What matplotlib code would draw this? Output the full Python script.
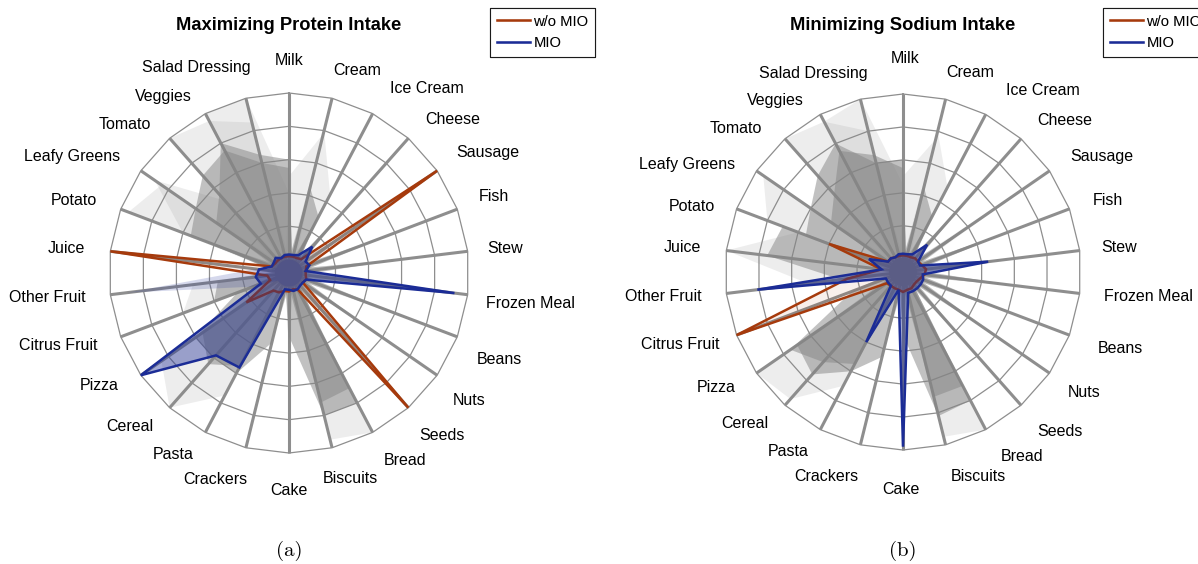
import numpy as np
import matplotlib
matplotlib.use("Agg")
import matplotlib.pyplot as plt
from matplotlib.patches import Polygon
from matplotlib.lines import Line2D

# ---------------- data ----------------
categories = ["Milk", "Cream", "Ice Cream", "Cheese", "Sausage", "Fish", "Stew",
              "Frozen Meal", "Beans", "Nuts", "Seeds", "Bread", "Biscuits", "Cake",
              "Crackers", "Pasta", "Cereal", "Pizza", "Citrus Fruit", "Other Fruit",
              "Juice", "Potato", "Leafy Greens", "Tomato", "Veggies", "Salad Dressing"]

titles = ["Maximizing Protein Intake", "Minimizing Sodium Intake"]
captions = ["(a)", "(b)"]
legend_labels = ["w/o MIO", "MIO"]

# normalised values (0 = inner ring, 1 = outer ring)
wo_mio_a = [0.02, 0.02, 0.02, 0.03, 1.00, 0.03, 0.02, 0.02, 0.03, 0.02, 1.00, 0.03, 0.02,
            0.03, 0.03, 0.05, 0.06, 0.23, 0.04, 0.05, 1.00, 0.03, 0.02, 0.02, 0.02, 0.02]
mio_a = [0.03, 0.03, 0.04, 0.13, 0.04, 0.05, 0.02, 0.92, 0.03, 0.02, 0.02, 0.03, 0.03,
         0.02, 0.02, 0.56, 0.58, 1.00, 0.10, 0.12, 0.10, 0.03, 0.03, 0.04, 0.02, 0.03]
mio_faint_a = {"Citrus Fruit": 0.15, "Other Fruit": 0.90, "Juice": 0.12}

wo_mio_b = [0.02, 0.02, 0.02, 0.03, 0.03, 0.04, 0.06, 0.05, 0.03, 0.02, 0.02, 0.03, 0.03,
            0.04, 0.03, 0.03, 0.03, 0.04, 1.00, 0.26, 0.05, 0.40, 0.03, 0.03, 0.02, 0.02]
mio_b = [0.03, 0.03, 0.04, 0.14, 0.03, 0.03, 0.44, 0.04, 0.05, 0.05, 0.05, 0.05, 0.05,
         0.98, 0.03, 0.40, 0.03, 0.03, 0.03, 0.81, 0.05, 0.14, 0.03, 0.03, 0.02, 0.03]
mio_faint_b = {}

# grey clouds of other solutions: dense core and faint tips
grey_core_a = [
    {"Potato": 0.55, "Leafy Greens": 0.6, "Tomato": 0.7, "Veggies": 0.75, "Salad Dressing": 0.6, "Milk": 0.55},
    {"Leafy Greens": 0.45, "Tomato": 0.55, "Veggies": 0.8, "Salad Dressing": 0.65, "Milk": 0.6},
    {"Cream": 0.45, "Ice Cream": 0.3},
    {"Ice Cream": 0.3, "Sausage": 0.45, "Stew": 0.55, "Beans": 0.6, "Seeds": 0.4},
    {"Cheese": 0.4, "Fish": 0.5, "Frozen Meal": 0.75, "Nuts": 0.45},
    {"Bread": 0.8, "Biscuits": 0.8, "Cake": 0.3},
    {"Bread": 0.7, "Biscuits": 0.72},
    {"Cake": 0.4, "Pasta": 0.55, "Cereal": 0.65, "Pizza": 0.55},
    {"Crackers": 0.35, "Pasta": 0.6, "Cereal": 0.6, "Pizza": 0.6, "Citrus Fruit": 0.25},
    {"Citrus Fruit": 0.4, "Other Fruit": 0.35, "Potato": 0.5},
]
grey_tip_a = [
    {"Tomato": 1.0, "Veggies": 0.95, "Salad Dressing": 0.85},
    {"Veggies": 1.0, "Salad Dressing": 1.0, "Milk": 0.4},
    {"Potato": 0.95, "Leafy Greens": 0.85},
    {"Potato": 0.6, "Leafy Greens": 0.9, "Tomato": 0.5},
    {"Milk": 0.5, "Cream": 0.78},
    {"Cream": 0.8, "Ice Cream": 0.45},
    {"Stew": 0.7, "Beans": 0.8, "Seeds": 0.45},
    {"Fish": 0.65, "Frozen Meal": 0.88, "Nuts": 0.55},
    {"Bread": 1.0, "Biscuits": 0.95},
    {"Pasta": 0.75, "Cereal": 1.0, "Pizza": 0.85},
    {"Citrus Fruit": 0.6, "Other Fruit": 0.5},
]

grey_core_b = [
    {"Potato": 0.55, "Leafy Greens": 0.6, "Tomato": 0.7, "Veggies": 0.8, "Salad Dressing": 0.6, "Milk": 0.6},
    {"Leafy Greens": 0.45, "Tomato": 0.55, "Veggies": 0.75, "Salad Dressing": 0.65, "Milk": 0.55},
    {"Other Fruit": 0.3, "Juice": 0.75, "Potato": 0.7},
    {"Cream": 0.45, "Ice Cream": 0.3},
    {"Ice Cream": 0.3, "Sausage": 0.5, "Stew": 0.55, "Beans": 0.6, "Seeds": 0.45},
    {"Cheese": 0.45, "Fish": 0.55, "Frozen Meal": 0.6, "Nuts": 0.55},
    {"Bread": 0.8, "Biscuits": 0.82, "Cake": 0.3},
    {"Bread": 0.7, "Biscuits": 0.7},
    {"Crackers": 0.45, "Pasta": 0.6, "Cereal": 0.75, "Pizza": 0.7},
    {"Cake": 0.35, "Pasta": 0.55, "Cereal": 0.65, "Pizza": 0.75, "Citrus Fruit": 0.25},
]
grey_tip_b = [
    {"Tomato": 1.0, "Veggies": 0.95, "Salad Dressing": 0.8},
    {"Veggies": 0.95, "Salad Dressing": 1.0, "Milk": 0.45},
    {"Potato": 0.8, "Leafy Greens": 0.95},
    {"Other Fruit": 0.5, "Juice": 1.0, "Potato": 0.6},
    {"Milk": 0.5, "Cream": 0.75},
    {"Cream": 0.8, "Ice Cream": 0.5},
    {"Sausage": 0.86, "Stew": 0.6, "Beans": 0.7},
    {"Fish": 0.6, "Frozen Meal": 0.65, "Nuts": 0.72},
    {"Bread": 1.0, "Biscuits": 0.95},
    {"Pasta": 0.7, "Cereal": 0.95, "Pizza": 1.0},
]

# ---------------- style ----------------
ORANGE = "#A63A0C"
BLUE = "#1B2C96"
GRID = "#8E8E8E"
R0 = 0.075

# label nudges in pixels (right, down)
nudge_a = {"Cream": (-5, -3), "Ice Cream": (6, -3), "Sausage": (-2, -4), "Fish": (-2, -4),
           "Stew": (-5, 0), "Frozen Meal": (-7, 6), "Beans": (-4, 14), "Nuts": (-5, 11),
           "Seeds": (-6, 9), "Bread": (-1, 6), "Biscuits": (-15, 6), "Cake": (0, 5),
           "Crackers": (7, 7), "Tomato": (-2, 5), "Veggies": (-2, 5),
           "Salad Dressing": (11, -6), "Pizza": (-1, -4)}
nudge_b = {"Cream": (-5, -2), "Ice Cream": (9, -2), "Stew": (-3, 0), "Beans": (5, 5),
           "Nuts": (-2, 5), "Seeds": (0, 8), "Bread": (3, 5), "Biscuits": (-1, 7),
           "Cake": (-2, 7), "Crackers": (4, 7), "Potato": (2, 6), "Leafy Greens": (-1, 8),
           "Tomato": (-6, 8), "Veggies": (-5, 8), "Salad Dressing": (13, -1),
           "Citrus Fruit": (6, 1), "Milk": (2, -3)}

W, H = 1198, 564
fig = plt.figure(figsize=(W / 100, H / 100), dpi=100)

n = len(categories)
theta = np.arange(n) * 2 * np.pi / n


def radius(v):
    return R0 + (1 - R0) * np.asarray(v, dtype=float)


def xy(values):
    r = radius(values)
    return np.column_stack([r * np.sin(theta), r * np.cos(theta)])


def full(d):
    return [d.get(c, 0.0) for c in categories]


def draw_panel(cx, cy, rpx, title, caption, wo, mio, faint, core, tip, nudge):
    half = 261
    L = half / rpx
    ax = fig.add_axes([(cx - half) / W, (H - cy - half) / H, 2 * half / W, 2 * half / H])
    ax.set_xlim(-L, L)
    ax.set_ylim(-L, L)
    ax.set_aspect("equal")
    ax.axis("off")

    # rings
    for lev in np.linspace(0, 1, 6):
        p = xy([lev] * n)
        p = np.vstack([p, p[:1]])
        ax.plot(p[:, 0], p[:, 1], color=GRID, lw=0.9, zorder=1)
    # spokes
    for t in theta:
        ax.plot([0, np.sin(t)], [0, np.cos(t)], color=GRID, lw=2.2, zorder=1,
                solid_capstyle="butt")

    for d in tip:
        ax.add_patch(Polygon(xy(full(d)), closed=True, facecolor="#8A8A8A",
                             alpha=0.15, edgecolor="none", zorder=2))
    for d in core:
        ax.add_patch(Polygon(xy(full(d)), closed=True, facecolor="#858585",
                             alpha=0.5, edgecolor="none", zorder=2))
    if faint:
        ax.add_patch(Polygon(xy(full(faint)), closed=True, facecolor=BLUE,
                             alpha=0.18, edgecolor="none", zorder=2.5))

    ax.add_patch(Polygon(xy(wo), closed=True, facecolor=ORANGE, alpha=0.08,
                         edgecolor="none", zorder=3))
    ax.add_patch(Polygon(xy(wo), closed=True, facecolor="none", edgecolor=ORANGE,
                         lw=1.8, zorder=4, joinstyle="miter"))
    ax.add_patch(Polygon(xy(mio), closed=True, facecolor=BLUE, alpha=0.4,
                         edgecolor="none", zorder=5))
    ax.add_patch(Polygon(xy(mio), closed=True, facecolor="none", edgecolor=BLUE,
                         lw=1.8, zorder=6, joinstyle="miter"))

    # category labels
    rl = 1.14
    for t, lab in zip(theta, categories):
        s, c = np.sin(t), np.cos(t)
        if abs(s) < 0.05:
            ha = "center"
            va = "bottom" if c > 0 else "top"
        else:
            ha = "left" if s > 0 else "right"
            va = "center"
        dx, dy = nudge.get(lab, (0, 0))
        ax.text(rl * s + dx / rpx, rl * c - dy / rpx, lab, ha=ha, va=va, fontsize=11.5,
                family="Liberation Sans", color="black")

    fig.text(cx / W, 1 - 26 / H, title, ha="center", va="center", fontsize=13.2,
             fontweight="bold", family="Liberation Sans")
    fig.text(cx / W, 1 - 551 / H, caption, ha="center", va="center", fontsize=15,
             family="cmr10")


draw_panel(289, 273, 180, titles[0], captions[0], wo_mio_a, mio_a, mio_faint_a,
           grey_core_a, grey_tip_a, nudge_a)
draw_panel(903, 272, 178, titles[1], captions[1], wo_mio_b, mio_b, mio_faint_b,
           grey_core_b, grey_tip_b, nudge_b)

handles = [Line2D([], [], color=ORANGE, lw=1.8), Line2D([], [], color=BLUE, lw=1.8)]
for lx in (490, 1103):
    leg = fig.legend(handles, legend_labels, loc="upper left",
                     bbox_to_anchor=(lx / W, 1 - 8 / H), frameon=True, fancybox=False,
                     edgecolor="black", handlelength=2.3,
                     handletextpad=0.2, borderpad=0.45, labelspacing=0.5,
                     borderaxespad=0, prop={"family": "Liberation Sans", "size": 10.6})
    leg.get_frame().set_linewidth(0.8)
    fig.add_artist(leg)

fig.savefig("out.png", dpi=100)
